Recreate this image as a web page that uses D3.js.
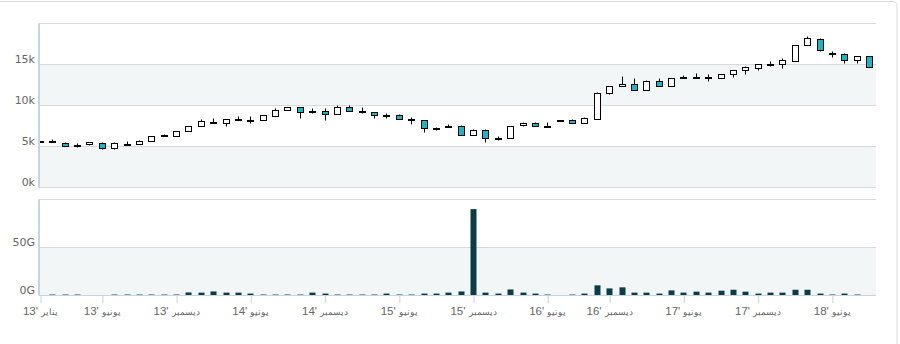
<!DOCTYPE html>
<html>
<head>
<meta charset="utf-8">
<script src="https://cdn.jsdelivr.net/npm/d3@7"></script>
<style>
  html, body { margin: 0; padding: 0; background: #fff; }
  svg { display: block; font-family: "DejaVu Sans", Verdana, sans-serif; }
</style>
</head>
<body>
<svg id="chart" width="900" height="344"></svg>
<script>
// Monthly candles, Jan 2013 – Sep 2018 (no August 2016 session)
const months = [
  "2013-01","2013-02","2013-03","2013-04","2013-05","2013-06","2013-07","2013-08","2013-09","2013-10","2013-11","2013-12",
  "2014-01","2014-02","2014-03","2014-04","2014-05","2014-06","2014-07","2014-08","2014-09","2014-10","2014-11","2014-12",
  "2015-01","2015-02","2015-03","2015-04","2015-05","2015-06","2015-07","2015-08","2015-09","2015-10","2015-11","2015-12",
  "2016-01","2016-02","2016-03","2016-04","2016-05","2016-06","2016-07","2016-09","2016-10","2016-11","2016-12",
  "2017-01","2017-02","2017-03","2017-04","2017-05","2017-06","2017-07","2017-08","2017-09","2017-10","2017-11","2017-12",
  "2018-01","2018-02","2018-03","2018-04","2018-05","2018-06","2018-07","2018-08","2018-09"
];

const open = [
  5600,5600,5470,5220,5220,5470,4780,5200,5270,5670,6300,6250,
  6900,7510,8040,7790,8250,8200,8210,8820,9440,9800,9330,9390,
  8980,9800,9370,9190,8800,8820,8350,8210,7250,7450,7480,6370,
  6990,6000,6080,7600,7920,7520,8200,8210,7880,8450,11470,
  12380,12570,11890,12990,12380,13430,13430,13450,13360,13850,14340,14530,
  15050,15070,15440,17400,18140,16400,16300,15560,16050
];
const high = [
  5700,5900,5500,5370,5550,5500,5550,5710,5800,6270,6570,6900,
  7510,8330,8460,8330,8770,8740,8820,9680,9800,9850,9680,9680,
  10050,10050,9800,9220,9140,8980,8580,8250,7430,7720,7600,7110,
  7110,6250,7550,7960,7950,8000,8230,8370,8550,11680,12380,
  13640,13360,13150,13390,13310,13760,14000,13800,13850,14340,14830,15070,
  15390,15760,17350,18420,18200,16670,16350,16050,16050
];
const low = [
  5550,5550,5120,5000,5200,4700,4750,5150,5250,5650,6250,6230,
  6880,7500,7850,7470,8200,7840,8200,8800,9420,8530,9130,8210,
  8960,9300,9070,8460,8460,8300,7720,6740,7060,7400,6350,6350,
  5590,5830,6060,7470,7490,7500,8190,7870,7860,8420,11350,
  12350,11870,11870,12360,12360,13420,13420,13030,13340,13430,13850,14290,
  14830,14580,15420,17380,16620,15970,15150,15150,14700
];
const close = [
  5650,5650,5150,5180,5510,4850,5390,5320,5640,6250,6350,6900,
  7510,8120,7880,8330,8330,8220,8820,9510,9800,9190,9250,8980,
  9800,9350,9300,8770,8750,8330,8300,7230,7200,7500,6370,6990,
  6000,6050,7550,7840,7510,7500,8220,7880,8490,11560,12380,
  12620,11890,12940,12380,13310,13450,13450,13400,13850,14340,14710,15070,
  15100,15510,17350,18260,16790,16300,15600,16050,14710
];
// Traded value per month
const volume = [
  0,1.0e9,1.0e9,1.0e9,0,0,1.0e9,1.0e9,1.0e9,1.0e9,1.0e9,1.0e9,
  3.2e9,3.0e9,4.2e9,3.0e9,3.0e9,2.0e9,1.0e9,1.0e9,1.0e9,1.0e9,3.0e9,2.0e9,
  1.0e9,1.0e9,1.0e9,1.0e9,2.0e9,1.0e9,1.0e9,2.0e9,2.0e9,3.0e9,4.2e9,90e9,
  3.0e9,2.0e9,6.3e9,3.0e9,2.0e9,1.0e9,0,1.0e9,2.0e9,10.6e9,7.4e9,
  8.5e9,3.0e9,3.0e9,2.0e9,5.3e9,3.0e9,4.0e9,3.0e9,5.0e9,6.0e9,4.0e9,2.0e9,
  3.0e9,3.0e9,6.0e9,6.0e9,2.0e9,1.0e9,2.0e9,1.0e9,0
];

const tickMonths = ["2013-01","2013-06","2013-12","2014-06","2014-12","2015-06","2015-12","2016-06","2016-12","2017-06","2017-12","2018-06"];
const monthNames = ["يناير","فبراير","مارس","أبريل","مايو","يونيو","يوليو","أغسطس","سبتمبر","أكتوبر","نوفمبر","ديسمبر"];
const priceTicks = [0, 5000, 10000, 15000];
const volumeTicks = [0, 50e9];

const svg = d3.select("#chart");
const plotLeft = 39, plotRight = 876;
const upColor = "#ffffff", downColor = "#17b7c9", volColor = "#093e47";
const gridColor = "#d9d9d9", bandColor = "#f3f6f7", axisColor = "#c6d3e1";

const x = d3.scalePoint().domain(months).range([40, 869]);
const yPrice = d3.scaleLinear().domain([0, 20000]).range([187.5, 23.5]);
const yVol = d3.scaleLinear().domain([0, 100e9]).range([295.5, 199.5]);

// outer frame
svg.append("rect").attr("x", -6).attr("y", 1.5).attr("width", 903).attr("height", 400)
  .attr("rx", 4).attr("fill", "none").attr("stroke", "#dcdcdc");

function panel(y, lo, hi, ticks, fmt) {
  const g = svg.append("g");
  // alternating bands
  d3.range(0, ticks.length + 1, 2).forEach(i => {
    const a = i * (ticks[1] - ticks[0]), b = a + (ticks[1] - ticks[0]);
    if (a >= hi) return;
    g.append("rect").attr("x", plotLeft).attr("width", plotRight - plotLeft)
      .attr("y", y(Math.min(b, hi))).attr("height", y(a) - y(Math.min(b, hi)))
      .attr("fill", bandColor);
  });
  const gridVals = ticks.concat([hi]);
  g.selectAll("line.grid").data(gridVals).join("line").attr("class", "grid")
    .attr("x1", plotLeft).attr("x2", plotRight)
    .attr("y1", d => y(d)).attr("y2", d => y(d))
    .attr("stroke", gridColor).attr("stroke-width", 1);
  g.selectAll("text.lab").data(ticks).join("text").attr("class", "lab")
    .attr("x", 35).attr("y", d => y(d) - 2).attr("text-anchor", "end")
    .attr("font-size", 11).attr("fill", "#666").text(fmt);
  g.append("line").attr("x1", plotLeft).attr("x2", plotLeft)
    .attr("y1", y(hi)).attr("y2", y(lo))
    .attr("stroke", axisColor).attr("stroke-width", 2);
}
panel(yPrice, 0, 20000, priceTicks, d => (d / 1000) + "k");
panel(yVol, 0, 100e9, volumeTicks, d => (d / 1e9) + "G");

// clip region for marks
svg.append("clipPath").attr("id", "plotClip").append("rect")
  .attr("x", plotLeft + 1).attr("y", 0).attr("width", plotRight - plotLeft).attr("height", 344);

const candles = months.map((m, i) => ({ m, o: open[i], h: high[i], l: low[i], c: close[i], v: volume[i] }));
const cg = svg.append("g").attr("clip-path", "url(#plotClip)");
const bw = 6;
const cx = d => Math.round(x(d.m)) + 0.5;

cg.selectAll("line.wick").data(candles).join("line").attr("class", "wick")
  .attr("x1", cx).attr("x2", cx)
  .attr("y1", d => Math.round(yPrice(d.h)) + 0.5).attr("y2", d => Math.round(yPrice(d.l)) + 0.5)
  .attr("stroke", "#000").attr("stroke-width", 1);

cg.selectAll("rect.body").data(candles).join("rect").attr("class", "body")
  .attr("x", d => cx(d) - bw / 2)
  .attr("width", bw)
  .attr("y", d => Math.round(yPrice(Math.max(d.o, d.c))) + 0.5)
  .attr("height", d => Math.max(1, Math.round(Math.abs(yPrice(d.o) - yPrice(d.c)))))
  .attr("fill", d => d.c >= d.o ? upColor : downColor)
  .attr("stroke", "#000").attr("stroke-width", 1);

// volume columns
cg.selectAll("rect.vol").data(candles.filter(d => d.v > 0)).join("rect").attr("class", "vol")
  .attr("x", d => Math.round(x(d.m)) - 3 + 0.5)
  .attr("width", 6)
  .attr("y", d => yVol(d.v))
  .attr("height", d => yVol(0) - yVol(d.v))
  .attr("fill", volColor);

// bottom axis
const xAxis = d3.axisBottom(x).tickValues(tickMonths).tickSize(8).tickFormat("");
const ax = svg.append("g").attr("transform", "translate(0,295)").call(xAxis);
ax.select(".domain").remove();
ax.selectAll(".tick line").attr("stroke", axisColor).attr("transform", "translate(0.5,0)");
svg.append("line").attr("x1", plotLeft).attr("x2", plotRight).attr("y1", 295.5).attr("y2", 295.5)
  .attr("stroke", axisColor).attr("stroke-width", 1);
ax.selectAll(".tick").each(function (m) {
  const [yy, mm] = m.split("-");
  const t = d3.select(this).append("text").attr("y", 20).attr("text-anchor", "middle")
    .attr("fill", "#666").attr("font-size", 11.5);
  t.append("tspan").text(yy.slice(2) + "' ");
  t.append("tspan").attr("font-size", 8.5).text(monthNames[+mm - 1]);
});
</script>
</body>
</html>
